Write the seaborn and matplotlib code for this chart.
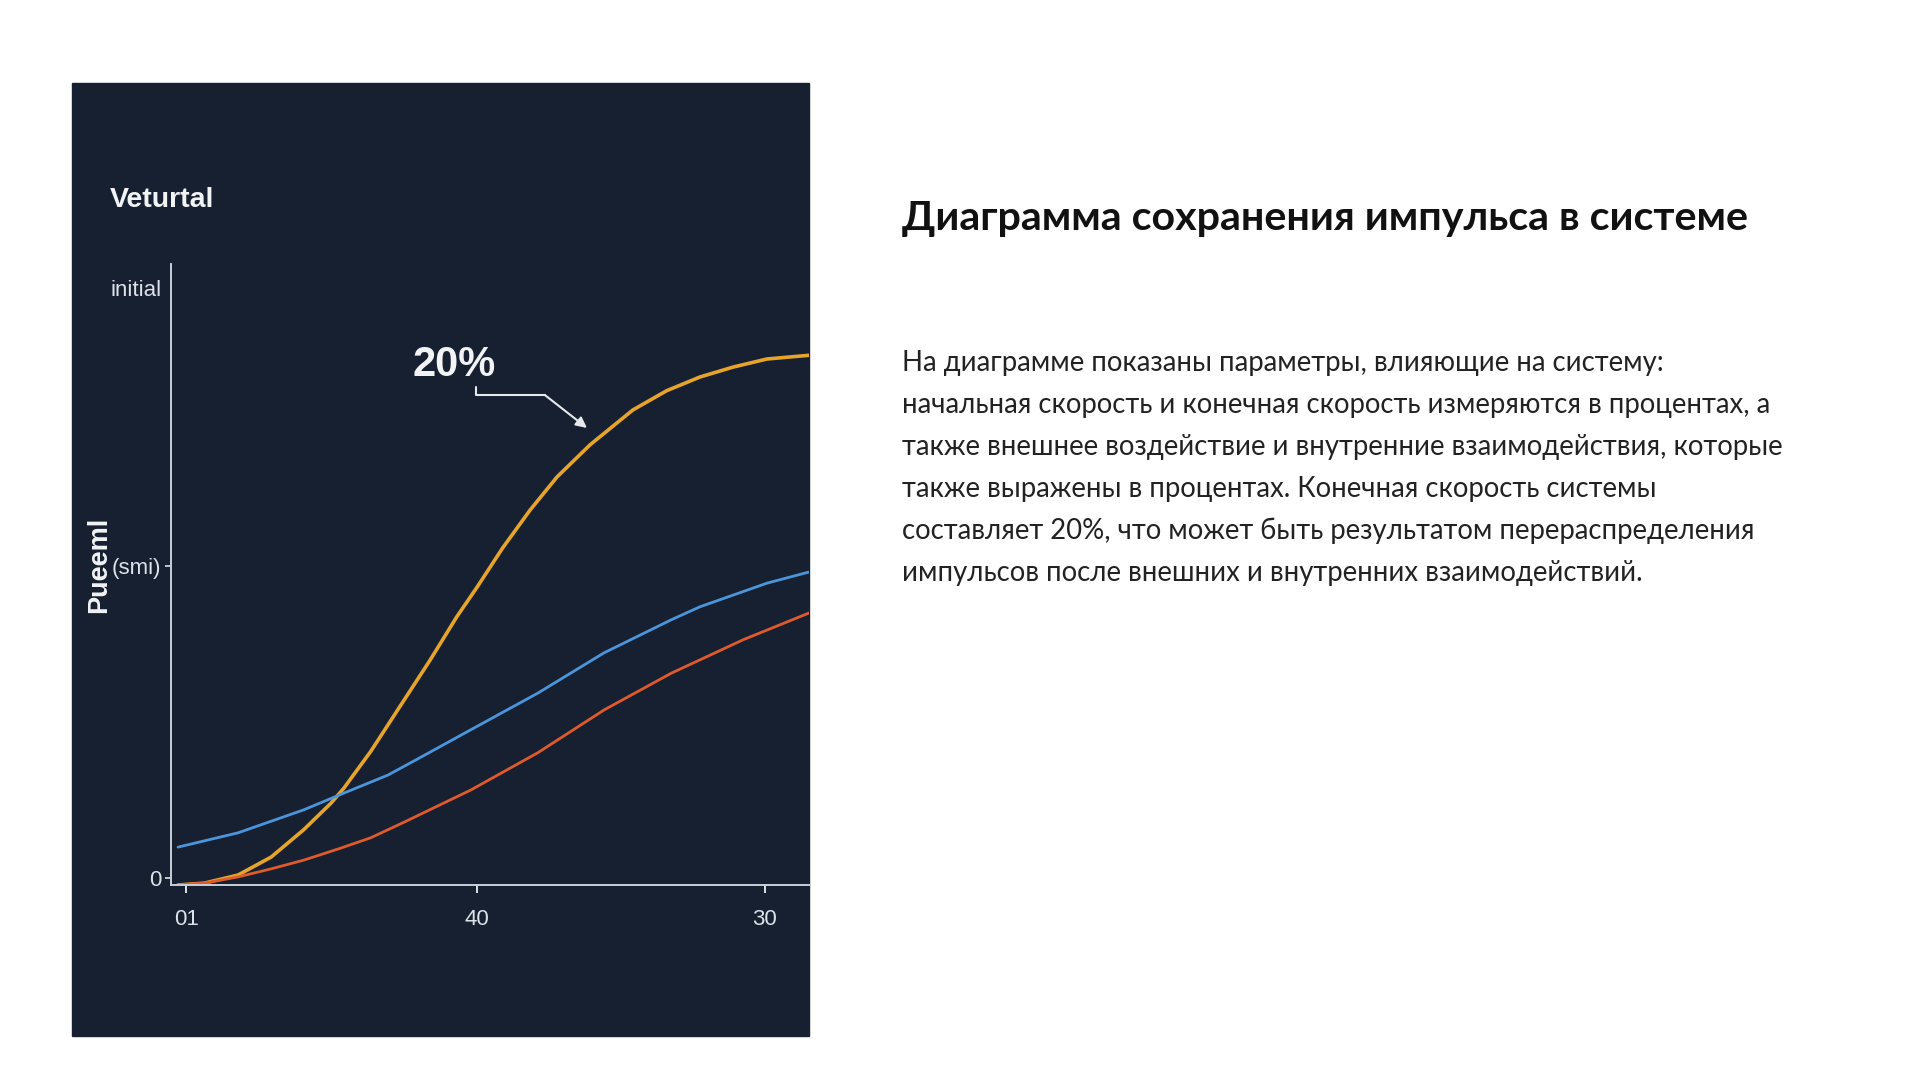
import matplotlib
matplotlib.use("Agg")
import matplotlib.pyplot as plt
from matplotlib.patches import Rectangle
import seaborn as sns
import pandas as pd

# ---- data (x, y in 0..100 axis units) ----
orange_x = [1.1, 5.2, 10.5, 15.7, 20.8, 25.1, 27.1, 31.3, 35.6, 40.6, 44.8, 48.0, 52.0,
            56.3, 60.5, 65.7, 72.4, 77.7, 82.9, 88.1, 93.4, 100]
orange_y = [0, 0.3, 1.6, 4.5, 8.9, 13.2, 15.6, 21.5, 28.3, 36.2, 43.2, 48.0, 54.3,
            60.4, 65.7, 70.9, 76.5, 79.6, 81.8, 83.4, 84.7, 85.3]
blue_x = [1.1, 10.5, 20.8, 27.1, 34.0, 39.2, 47.0, 57.5, 67.9, 78.4, 82.9, 93.4, 100]
blue_y = [6.1, 8.4, 12.1, 14.8, 17.7, 20.6, 25.0, 30.9, 37.4, 42.7, 44.8, 48.6, 50.4]
red_x = [1.1, 5.2, 10.5, 15.7, 20.8, 26.2, 31.3, 36.5, 47.0, 57.5, 67.9, 78.4, 89.7, 100]
red_y = [0, 0.3, 1.3, 2.6, 4.0, 5.8, 7.6, 10.1, 15.3, 21.3, 28.2, 34.1, 39.5, 43.8]

xtick_pos = [2.4, 48.0, 93.1]
xtick_labels = ["01", "40", "30"]
ytick_pos = [1.1, 51.4, 96.1]
ytick_labels = ["0", "(smi)", "initial"]

annot_text = "20%"
annot_pos = (44.4, 83.8)
annot_path = [(47.8, 80.2), (47.8, 78.9), (58.6, 78.9), (65.2, 73.6)]

chart_title = "Veturtal"
y_label = "Pueeml"

title_ru = "Диаграмма сохранения импульса в системе"
body_lines = [
    "На диаграмме показаны параметры, влияющие на систему:",
    "начальная скорость и конечная скорость измеряются в процентах, а",
    "также внешнее воздействие и внутренние взаимодействия, которые",
    "также выражены в процентах. Конечная скорость системы",
    "составляет 20%, что может быть результатом перераспределения",
    "импульсов после внешних и внутренних взаимодействий.",
]

df = pd.concat([
    pd.DataFrame({"x": orange_x, "y": orange_y, "s": "orange"}),
    pd.DataFrame({"x": blue_x, "y": blue_y, "s": "blue"}),
    pd.DataFrame({"x": red_x, "y": red_y, "s": "red"}),
])
palette = {"orange": "#e6a42b", "blue": "#4a95dc", "red": "#df5a2c"}

sns.set_theme(style="white")
plt.rcParams["font.family"] = ["Liberation Sans", "DejaVu Sans"]

W, H = 1920, 1080
bg = "#172030"
fg = "#dde1e8"

fig = plt.figure(figsize=(19.2, 10.8), dpi=100, facecolor="white")

# dark panel
fig.add_artist(Rectangle((72 / W, 1 - 1036 / H), (809 - 72) / W, (1036 - 83) / H,
                         transform=fig.transFigure, color=bg, zorder=0))

ax = fig.add_axes([171 / W, 1 - 885 / H, (809 - 171) / W, (885 - 264) / H])
ax.set_facecolor("none")

sns.lineplot(data=df, x="x", y="y", hue="s", palette=palette, estimator=None,
             sort=False, legend=False, ax=ax)
for line, lw in zip(ax.lines, [2.6, 2.0, 2.0]):
    line.set_linewidth(lw)
    line.set_solid_capstyle("round")
    line.set_solid_joinstyle("round")

ax.set_xlim(0, 100)
ax.set_ylim(0, 100)
sns.despine(ax=ax)
for side in ["left", "bottom"]:
    ax.spines[side].set_color("#c9ced8")
    ax.spines[side].set_linewidth(1.4)

ax.set_xticks(xtick_pos)
ax.set_xticklabels(xtick_labels)
ax.set_yticks(ytick_pos)
ax.set_yticklabels(ytick_labels)
ax.tick_params(axis="x", colors=fg, labelsize=16, length=6, width=1.4, pad=11, direction="out", bottom=True)
ax.tick_params(axis="y", colors=fg, labelsize=16, length=4, width=1.2, pad=3, direction="out", left=True)
ax.yaxis.get_ticklines()[4].set_visible(False)  # no tick mark next to "initial"
ax.set_xlabel("")
ax.set_ylabel("")

# annotation "20%" with bent arrow
ax.text(annot_pos[0], annot_pos[1], annot_text, color="#f2f3f5", fontsize=30,
        fontweight="bold", ha="center", va="center")
px = [p[0] for p in annot_path[:-1]]
py = [p[1] for p in annot_path[:-1]]
ax.plot(px, py, color="#e6e8ec", lw=1.5)
ax.annotate("", xy=annot_path[-1], xytext=annot_path[-2],
            arrowprops=dict(arrowstyle="-|>", color="#e6e8ec", lw=1.5, mutation_scale=16,
                            shrinkA=0, shrinkB=0))

# panel title and y label
fig.text(110 / W, 1 - 200 / H, chart_title, color="#f2f3f5", fontsize=20.5,
         fontweight="bold", ha="left", va="center")
fig.text(99 / W, 1 - 565 / H, y_label, color="#f2f3f5", fontsize=19.5,
         fontweight="bold", rotation=90, ha="center", va="center")

# right-hand text
txt_font = ["Lato", "Noto Sans", "DejaVu Sans"]
fig.text(902 / W, 1 - 219 / H, title_ru, color="#111111", fontsize=29.7,
         fontweight="bold", family=txt_font, ha="left", va="center")
for i, line in enumerate(body_lines):
    fig.text(902 / W, 1 - (363 + 42 * i) / H, line, color="#222222", fontsize=19.8,
             family=txt_font, ha="left", va="center")

fig.savefig("out.png", dpi=100, facecolor="white")
